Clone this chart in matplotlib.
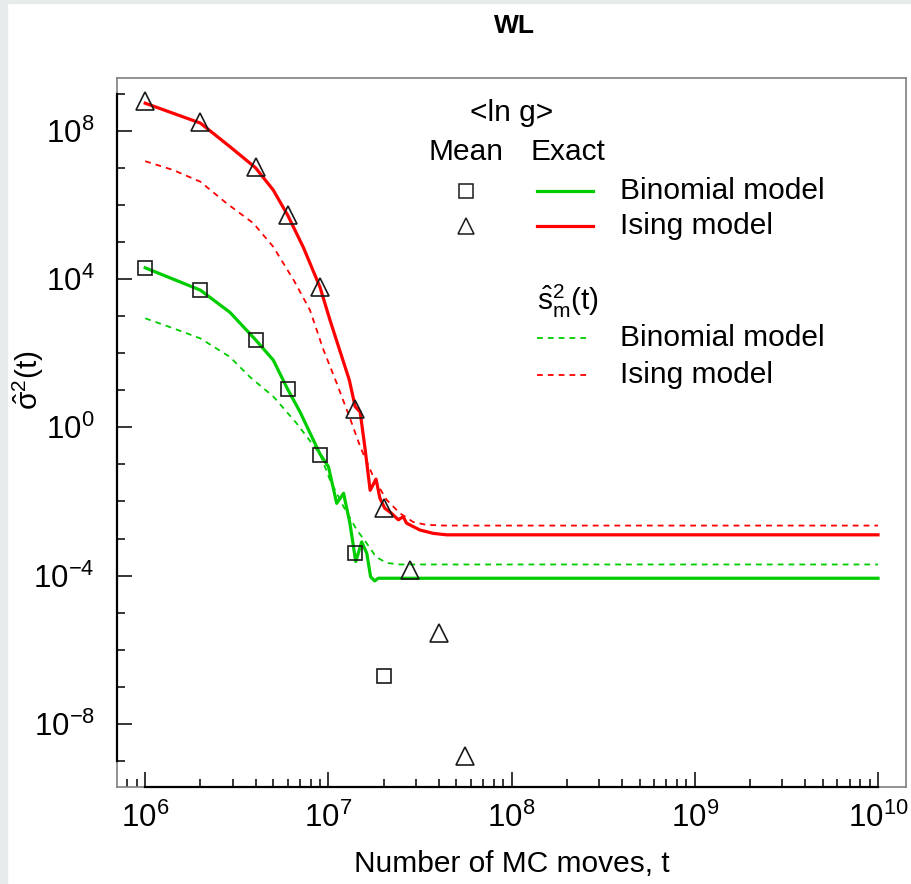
import numpy as np
import matplotlib
matplotlib.use("Agg")
import matplotlib.pyplot as plt
from matplotlib.patches import Rectangle
from matplotlib.ticker import LogLocator, FixedLocator, NullFormatter

plt.rcParams['font.family'] = ['Liberation Sans', 'DejaVu Sans']
plt.rcParams['mathtext.fontset'] = 'custom'
plt.rcParams['mathtext.rm'] = 'Liberation Sans'
plt.rcParams['mathtext.it'] = 'Liberation Sans:italic'
plt.rcParams['mathtext.bf'] = 'Liberation Sans:bold'
plt.rcParams['mathtext.default'] = 'regular'

# <ln g> mean over runs (markers)
t_mean_bin = [1e6, 2e6, 4e6, 6e6, 9e6, 1.4e7, 2e7]
s_mean_bin = [2.0e4, 5.2e3, 2.2e2, 10.5, 0.18, 4.2e-4, 1.95e-7]

t_mean_ising = [1e6, 2e6, 4e6, 6e6, 9e6, 1.4e7, 2e7, 2.8e7, 4e7, 5.6e7]
s_mean_ising = [6.5e8, 1.7e8, 1.02e7, 5.2e5, 6.0e3, 3.1, 6.6e-3, 1.41e-4, 2.9e-6, 1.38e-9]

# exact <ln g> (solid lines)
t_exact_bin = [1.0e6, 2.0e6, 2.9e6, 4.0e6, 5.0e6, 6.0e6, 7.0e6, 9.0e6, 1.0e7, 1.11e7,
               1.21e7, 1.31e7, 1.41e7, 1.52e7, 1.62e7, 1.70e7, 1.79e7, 1.87e7, 1e10]
s_exact_bin = [2.0e4, 5.0e3, 1.26e3, 2.3e2, 65, 10.5, 2.6, 0.19, 0.087, 0.0089,
               0.0166, 0.0026, 2.4e-4, 8.1e-4, 4.0e-4, 9.3e-5, 7.2e-5, 8.5e-5, 8.5e-5]

t_exact_ising = [1.0e6, 2.0e6, 2.9e6, 4.0e6, 5.0e6, 6.0e6, 7.3e6, 9.0e6, 1.02e7, 1.3e7,
                 1.4e7, 1.49e7, 1.58e7, 1.69e7, 1.82e7, 1.91e7, 2.03e7, 2.21e7, 2.41e7,
                 2.56e7, 2.67e7, 3.16e7, 3.73e7, 4.42e7, 5.2e7, 1e10]
s_exact_ising = [5.5e8, 1.6e8, 3.7e7, 1.0e7, 2.5e6, 5.2e5, 7.1e4, 6.0e3, 7.8e2, 19,
                 3.6, 2.6, 0.30, 0.020, 0.040, 0.0123, 0.0066, 0.0048, 0.0032,
                 0.0039, 0.0026, 0.0017, 0.00138, 0.00126, 0.00126, 0.00126]

# s_m^2(t) (dashed lines)
t_sm_bin = [1.0e6, 1.42e6, 2.0e6, 2.9e6, 3.72e6, 5.0e6, 6.7e6, 9.0e6, 1.02e7, 1.21e7,
            1.43e7, 1.62e7, 1.82e7, 2.08e7, 2.46e7, 1e10]
s_sm_bin = [870, 470, 250, 79, 23, 6.8, 1.29, 0.19, 0.038, 0.0072,
            0.0017, 7.4e-4, 3.2e-4, 2.2e-4, 2.0e-4, 2.0e-4]

t_sm_ising = [1.0e6, 1.42e6, 2.0e6, 2.78e6, 3.89e6, 5.0e6, 6.5e6, 7.93e6, 9.38e6, 1.11e7,
              1.31e7, 1.50e7, 1.79e7, 2.08e7, 2.46e7, 2.90e7, 3.43e7, 4.4e7, 1e10]
s_sm_ising = [1.5e7, 8.7e6, 4.2e6, 1.1e6, 3.2e5, 7.4e4, 8.9e3, 1.45e3, 126, 15.5,
              1.78, 0.28, 0.038, 0.011, 0.0048, 0.0028, 0.00234, 0.00224, 0.00224]

y_major = [1e-8, 1e-4, 1e0, 1e4, 1e8]
y_minor = [1e-9, 1e-7, 1e-6, 1e-5, 1e-3, 1e-2, 1e-1, 1e1, 1e2, 1e3,
           1e5, 1e6, 1e7, 1e9]

green = '#00cd00'
red = '#ff0000'
mark = '#1a1a1a'
fs = 21.5

fig = plt.figure(figsize=(9.12, 8.84), dpi=100)
fig.add_artist(Rectangle((0, 0), 7 / 912, 1, transform=fig.transFigure,
                         color='#e6ecec', zorder=-5))
fig.add_artist(Rectangle((0, 1 - 3 / 884), 1, 3 / 884, transform=fig.transFigure,
                         color='#e6ecec', zorder=-5))
ax = fig.add_axes([117 / 912, 1 - 787 / 884, 789 / 912, 709 / 884])

ax.plot(t_sm_bin, s_sm_bin, color=green, lw=1.3, ls=(0, (3.2, 2.8)))
ax.plot(t_sm_ising, s_sm_ising, color=red, lw=1.3, ls=(0, (3.2, 2.8)))
ax.plot(t_exact_bin, s_exact_bin, color=green, lw=2.3)
ax.plot(t_exact_ising, s_exact_ising, color=red, lw=2.3)
ax.plot(t_mean_bin, s_mean_bin, ls='none', marker='s', ms=10.5, mfc='none',
        mec=mark, mew=1.2, zorder=5)
ax.plot(t_mean_ising, s_mean_ising, ls='none', marker='^', ms=12.5, mfc='none',
        mec=mark, mew=1.2, zorder=5)

ax.set_xscale('log')
ax.set_yscale('log')
ax.set_xlim(10 ** 5.846, 10 ** 10.153)
ax.set_ylim(10 ** -9.70, 10 ** 9.42)
ax.xaxis.set_major_locator(LogLocator(base=10, numticks=20))
ax.xaxis.set_minor_locator(LogLocator(base=10, subs=np.arange(2, 10), numticks=20))
ax.xaxis.set_minor_formatter(NullFormatter())
ax.yaxis.set_major_locator(FixedLocator(y_major))
ax.yaxis.set_minor_locator(FixedLocator(y_minor))
ax.yaxis.set_minor_formatter(NullFormatter())
ax.tick_params(which='both', direction='in', top=False, right=False,
               color='black', width=1.1, labelsize=22.5)
ax.tick_params(which='major', length=10.5)
ax.tick_params(which='minor', length=5.5)
ax.tick_params(axis='x', which='major', pad=11)
ax.tick_params(axis='y', which='major', pad=16)

for sp in ax.spines.values():
    sp.set_color('#808080')
    sp.set_linewidth(1.2)
ax.plot([1e6, 1e10], [0, 0], transform=ax.get_xaxis_transform(), color='black',
        lw=1.6, clip_on=False, zorder=6)
ax.plot([0, 0], [1e-9, 1e9], transform=ax.get_yaxis_transform(), color='black',
        lw=1.6, clip_on=False, zorder=6)

ax.set_xlabel('Number of MC moves, t', fontsize=fs)
ax.xaxis.set_label_coords(0.50, -0.089)
ax.set_ylabel(r'$\hat{\sigma}^{2}$(t)', fontsize=fs)
ax.yaxis.set_label_coords(-0.090, 0.574)

fig.text(514 / 912, 1 - 26 / 884, 'WL', fontsize=19, fontweight='bold',
         ha='center', va='center')

# hand-built legend
tr = ax.transAxes
ax.text(0.5002, 0.9506, '<ln g>', fontsize=fs, ha='center', va='center', transform=tr)
ax.text(0.4419, 0.8961, 'Mean', fontsize=fs, ha='center', va='center', transform=tr)
ax.text(0.5710, 0.8961, 'Exact', fontsize=fs, ha='center', va='center', transform=tr)
ax.plot([0.4419], [0.8406], marker='s', ms=9.5, mfc='none', mec=mark, mew=1.1, transform=tr)
ax.plot([0.4419], [0.7913], marker='^', ms=11.5, mfc='none', mec=mark, mew=1.1, transform=tr)
ax.plot([0.5319, 0.6036], [0.8406, 0.8406], color=green, lw=2.3, transform=tr)
ax.plot([0.5319, 0.6036], [0.7913, 0.7913], color=red, lw=2.3, transform=tr)
ax.text(0.6375, 0.8406, 'Binomial model', fontsize=fs, ha='left', va='center', transform=tr)
ax.text(0.6375, 0.7913, 'Ising model', fontsize=fs, ha='left', va='center', transform=tr)
ax.text(0.5319, 0.6845, r'$\hat{s}_{m}^{2}$(t)', fontsize=fs, ha='left', va='center', transform=tr)
ax.plot([0.5319, 0.5995], [0.6329, 0.6329], color=green, lw=1.3, ls=(0, (3.2, 2.8)), transform=tr)
ax.plot([0.5319, 0.5995], [0.5811, 0.5811], color=red, lw=1.3, ls=(0, (3.2, 2.8)), transform=tr)
ax.text(0.6375, 0.6329, 'Binomial model', fontsize=fs, ha='left', va='center', transform=tr)
ax.text(0.6375, 0.5811, 'Ising model', fontsize=fs, ha='left', va='center', transform=tr)

fig.savefig('out.png', dpi=100)
